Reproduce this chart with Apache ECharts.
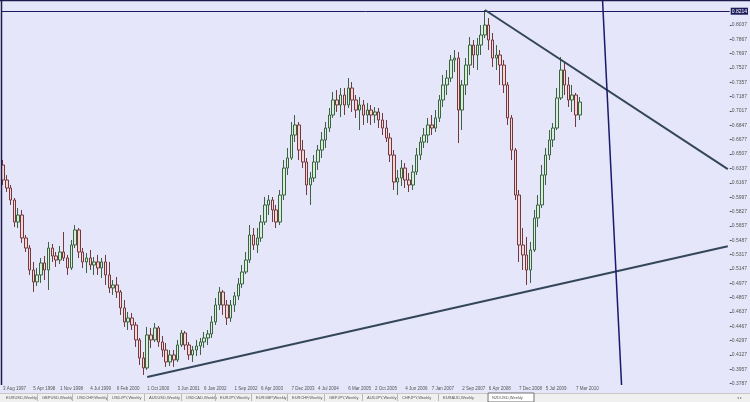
<!DOCTYPE html>
<html><head><meta charset="utf-8">
<script src="https://cdn.jsdelivr.net/npm/echarts@6/dist/echarts.min.js"></script>
<style>html,body{margin:0;padding:0;background:#e6e6fa}#c{width:750px;height:402px}</style>
</head><body><div id="c"></div>
<script>
// ---- data (NZDUSD, bars from Aug 1997) ----
const open = [
0.6378,0.6200,0.6105,0.5963,0.5702,0.5785,0.5513,0.5394,0.5134,0.4992,
0.5075,0.5217,0.5134,0.5394,0.5300,0.5252,0.5347,0.5276,0.5158,0.5430,
0.5608,0.5347,0.5229,0.5276,0.5193,0.5229,0.5158,0.5229,0.5075,0.4921,
0.4956,0.4873,0.4684,0.4518,0.4565,0.4482,0.4305,0.4091,0.3973,0.4364,
0.4305,0.4447,0.4281,0.4186,0.4044,0.4127,0.4068,0.4245,0.4387,0.4245,
0.4127,0.4186,0.4233,0.4281,0.4328,0.4376,0.4518,0.4719,0.4873,0.4719,
0.4565,0.4719,0.4826,0.4968,0.5110,0.5252,0.5548,0.5430,0.5513,0.5702,
0.5904,0.5963,0.5845,0.5702,0.6022,0.6342,0.6461,0.6733,0.6852,0.6555,
0.6413,0.6141,0.6224,0.6413,0.6555,0.6674,0.6816,0.6970,0.7148,0.7089,
0.7207,0.7089,0.7290,0.7148,0.7029,0.7089,0.6970,0.7029,0.6970,0.7006,
0.6911,0.6816,0.6698,0.6496,0.6176,0.6224,0.6342,0.6200,0.6141,0.6295,
0.6496,0.6650,0.6733,0.6852,0.6816,0.6935,0.7148,0.7326,0.7408,0.7622,
0.7645,0.7029,0.7326,0.7562,0.7799,0.7681,0.7799,0.7918,0.8036,0.7859,
0.7645,0.7681,0.7562,0.7326,0.6935,0.6555,0.6022,0.5430,0.5312,0.5134,
0.5371,0.5750,0.5904,0.6259,0.6496,0.6674,0.6816,0.7172,0.7503,0.7326,
0.7148,0.7207,0.6970];
const close = [
0.6200,0.6105,0.5963,0.5702,0.5785,0.5513,0.5394,0.5134,0.4992,0.5075,
0.5217,0.5134,0.5394,0.5300,0.5252,0.5347,0.5276,0.5158,0.5430,0.5608,
0.5347,0.5229,0.5276,0.5193,0.5229,0.5158,0.5229,0.5075,0.4921,0.4956,
0.4873,0.4684,0.4518,0.4565,0.4482,0.4305,0.4091,0.3973,0.4364,0.4305,
0.4447,0.4281,0.4186,0.4044,0.4127,0.4068,0.4245,0.4387,0.4245,0.4127,
0.4186,0.4233,0.4281,0.4328,0.4376,0.4518,0.4719,0.4873,0.4719,0.4565,
0.4719,0.4826,0.4968,0.5110,0.5252,0.5548,0.5430,0.5513,0.5702,0.5904,
0.5963,0.5845,0.5702,0.6022,0.6342,0.6461,0.6733,0.6852,0.6555,0.6413,
0.6141,0.6224,0.6413,0.6555,0.6674,0.6816,0.6970,0.7148,0.7089,0.7207,
0.7089,0.7290,0.7148,0.7029,0.7089,0.6970,0.7029,0.6970,0.7006,0.6911,
0.6816,0.6698,0.6496,0.6176,0.6224,0.6342,0.6200,0.6141,0.6295,0.6496,
0.6650,0.6733,0.6852,0.6816,0.6935,0.7148,0.7326,0.7408,0.7622,0.7645,
0.7029,0.7326,0.7562,0.7799,0.7681,0.7799,0.7918,0.8036,0.7859,0.7645,
0.7681,0.7562,0.7326,0.6935,0.6555,0.6022,0.5430,0.5312,0.5134,0.5371,
0.5750,0.5904,0.6259,0.6496,0.6674,0.6816,0.7172,0.7503,0.7326,0.7148,
0.7207,0.6970,0.7124];
const low = [
0.6141,0.6058,0.5904,0.5643,0.5631,0.5454,0.5347,0.5075,0.4873,0.4944,
0.4980,0.5015,0.4897,0.5229,0.5169,0.5205,0.5240,0.5075,0.5134,0.5394,
0.5276,0.5158,0.5098,0.5134,0.5075,0.5075,0.5039,0.4956,0.4861,0.4838,
0.4802,0.4601,0.4459,0.4423,0.4423,0.4222,0.4008,0.3890,0.3949,0.4210,
0.4281,0.4222,0.4103,0.3985,0.3996,0.3985,0.4044,0.4222,0.4186,0.4068,
0.4044,0.4115,0.4127,0.4210,0.4245,0.4328,0.4482,0.4660,0.4601,0.4482,
0.4518,0.4636,0.4778,0.4921,0.5086,0.5217,0.5371,0.5335,0.5466,0.5667,
0.5785,0.5702,0.5631,0.5667,0.5963,0.6259,0.6437,0.6650,0.6437,0.6342,
0.6022,0.5904,0.6176,0.6319,0.6461,0.6579,0.6769,0.6935,0.7006,0.6946,
0.6970,0.7053,0.7006,0.6935,0.6792,0.6852,0.6875,0.6852,0.6875,0.6816,
0.6733,0.6650,0.6413,0.6082,0.6022,0.6129,0.6105,0.6058,0.6082,0.6259,
0.6437,0.6579,0.6638,0.6733,0.6769,0.6887,0.7065,0.7207,0.7361,0.7480,
0.6638,0.6792,0.7207,0.7444,0.7527,0.7503,0.7681,0.7882,0.7740,0.7539,
0.7503,0.7326,0.7231,0.6852,0.6437,0.5963,0.5229,0.5134,0.4956,0.4980,
0.5347,0.5643,0.5868,0.6141,0.6437,0.6591,0.6792,0.7148,0.7207,0.7065,
0.7006,0.6828,0.6911];
const high = [
0.6437,0.6259,0.6141,0.5987,0.5868,0.5845,0.5548,0.5430,0.5229,0.5158,
0.5276,0.5300,0.5466,0.5442,0.5347,0.5418,0.5584,0.5312,0.5489,0.5667,
0.5631,0.5394,0.5335,0.5371,0.5288,0.5312,0.5276,0.5312,0.5229,0.5015,
0.5051,0.4897,0.4778,0.4636,0.4624,0.4518,0.4328,0.4162,0.4459,0.4447,
0.4506,0.4470,0.4352,0.4269,0.4186,0.4186,0.4305,0.4423,0.4411,0.4281,
0.4233,0.4305,0.4328,0.4399,0.4423,0.4589,0.4802,0.4932,0.4897,0.4778,
0.4778,0.4873,0.5039,0.5193,0.5347,0.5667,0.5631,0.5631,0.5785,0.5999,
0.6022,0.5999,0.5904,0.6082,0.6437,0.6579,0.6887,0.6970,0.6887,0.6674,
0.6461,0.6295,0.6496,0.6615,0.6769,0.6887,0.7053,0.7243,0.7266,0.7290,
0.7290,0.7408,0.7361,0.7207,0.7183,0.7148,0.7112,0.7089,0.7065,0.7053,
0.6994,0.6911,0.6757,0.6555,0.6319,0.6437,0.6401,0.6283,0.6378,0.6579,
0.6710,0.6816,0.6935,0.6970,0.7029,0.7207,0.7444,0.7503,0.7681,0.7740,
0.7716,0.7385,0.7645,0.7894,0.7859,0.7882,0.8036,0.8214,0.8119,0.7942,
0.7799,0.7740,0.7622,0.7361,0.6970,0.6579,0.6082,0.5631,0.5525,0.5466,
0.5845,0.6022,0.6378,0.6579,0.6792,0.6875,0.7290,0.7657,0.7598,0.7420,
0.7326,0.7231,0.7183];

// price-scale tick labels (right axis)
const yTicks = [0.8037,0.7867,0.7697,0.7527,0.7357,0.7187,0.7017,0.6847,0.6677,0.6507,
0.6337,0.6167,0.5997,0.5827,0.5657,0.5487,0.5317,0.5147,0.4977,0.4807,
0.4637,0.4467,0.4297,0.4127,0.3957,0.3787];
const levelLine = 0.8214;   // horizontal line object
const bidPrice = 0.7124;    // current price label
// time-scale label positions (bar indices)
const xLabelIdx = [0,8,15,23,30,38,46,53,61,68,76,83,91,98,106,113,121,128,136,143,151];
// drawn objects (bar index, price)
const trendDown = [[127,0.8214],[191,0.6329]];
const trendUp = [[38,0.3866],[191,0.5415]];
const vLine = [[158,0.8321],[163,0.3771]];
const tabs = ['EURUSD,Weekly','GBPUSD,Weekly','USDCHF,Weekly','USDJPY,Weekly','AUDUSD,Weekly','USDCAD,Weekly','EURJPY,Weekly','EURGBP,Weekly','EURCHF,Weekly','GBPJPY,Weekly','AUDJPY,Weekly','CHFJPY,Weekly','EURAUD,Weekly','NZDUSD,Weekly'];

// categories: monthly bars from Aug 1997, with empty space on the right
const MON = ['Jan','Feb','Mar','Apr','May','Jun','Jul','Aug','Sep','Oct','Nov','Dec'];
const categories = [];
for (let i = 0; i < 192; i++) {
  const d = new Date(Date.UTC(1997, 7 + i, 1));
  const day = 1 + ((7 - d.getUTCDay()) % 7);
  categories.push(day + ' ' + MON[d.getUTCMonth()] + ' ' + d.getUTCFullYear());
}
const candles = open.map((o, i) => [o, close[i], low[i], high[i]]);

const tabStarts = [3,39,74,109,146,183,217,253,289,326,364,399,440,489];
const graphic = [
  {type:'rect', shape:{x:0,y:393,width:750,height:9}, style:{fill:'#f0f0f0'}, z:100},
  {type:'line', shape:{x1:0,y1:393.5,x2:750,y2:393.5}, style:{stroke:'#c8c8c8',lineWidth:1}, z:101},
  {type:'rect', shape:{x:488,y:393,width:46,height:9}, style:{fill:'#ffffff',stroke:'#707070',lineWidth:1}, z:101},
  {type:'line', shape:{x1:0,y1:0.5,x2:750,y2:0.5}, style:{stroke:'#1c1c4c',lineWidth:1.5}, z:100},
  {type:'line', shape:{x1:1.5,y1:0,x2:1.5,y2:385}, style:{stroke:'#1c1c4c',lineWidth:1.5}, z:100}
];
tabs.forEach((t, i) => {
  graphic.push({type:'text', x:tabStarts[i] + 3, y:397.7, z:102,
    style:{text:t, fontSize:4, fontFamily:'Liberation Sans', fill:'#555', verticalAlign:'middle'}});
  if (i > 0) graphic.push({type:'line', shape:{x1:tabStarts[i]-1.5,y1:394,x2:tabStarts[i]-1.5,y2:401}, style:{stroke:'#b8b8b8',lineWidth:1}, z:102});
});
graphic.push({type:'text', x:737, y:397.7, z:102, style:{text:'◂ ▸', fontSize:4, fill:'#888', verticalAlign:'middle'}});

const chart = echarts.init(document.getElementById('c'), null, {renderer:'canvas'});
chart.setOption({
  animation:false,
  backgroundColor:'#e6e6fa',
  textStyle:{fontFamily:'Liberation Sans'},
  grid:{left:1, right:19, top:1, bottom:17, containLabel:false},
  xAxis:{type:'category', data:categories, boundaryGap:true,
    axisLine:{show:false}, axisTick:{show:false}, splitLine:{show:false},
    axisLabel:{interval:(i) => xLabelIdx.includes(i), fontSize:4.5, color:'#555', margin:1, align:'left', hideOverlap:false}},
  yAxis:{type:'value', position:'right', min:0.3771, max:0.8321, scale:true,
    splitLine:{show:false}, axisLine:{show:false},
    axisTick:{show:true, length:2, customValues:yTicks, lineStyle:{color:'#555'}},
    axisLabel:{customValues:yTicks, fontSize:5, color:'#555', margin:2, formatter:(v) => v.toFixed(4)}},
  series:[
    {type:'candlestick', data:candles, barWidth:3, silent:true,
      itemStyle:{color:'#d6efd6', color0:'#f6d6d6', borderColor:'#3a6340', borderColor0:'#74383a', borderWidth:1},
      markLine:{silent:true, symbol:['none','none'], animation:false,
        data:[
          {yAxis:levelLine, lineStyle:{color:'#1c1c5c', width:1, type:'solid'},
            label:{show:true, position:'end', distance:1, formatter:levelLine.toFixed(4), color:'#fff', backgroundColor:'#1c1c5c', fontSize:5, padding:[1,1]}},
          {yAxis:bidPrice, lineStyle:{opacity:0},
            label:{show:true, position:'end', distance:1, formatter:bidPrice.toFixed(4), color:'#fff', backgroundColor:'#1c1c5c', fontSize:5, padding:[1,1]}}
        ]}},
    {type:'line', data:trendDown, symbol:'none', silent:true, z:5, lineStyle:{color:'#34475a', width:2}},
    {type:'line', data:trendUp, symbol:'none', silent:true, z:5, lineStyle:{color:'#34475a', width:2}},
    {type:'line', data:vLine, symbol:'none', silent:true, z:6, lineStyle:{color:'#1a1a6a', width:1.5}}
  ],
  graphic:graphic
});
</script></body></html>
